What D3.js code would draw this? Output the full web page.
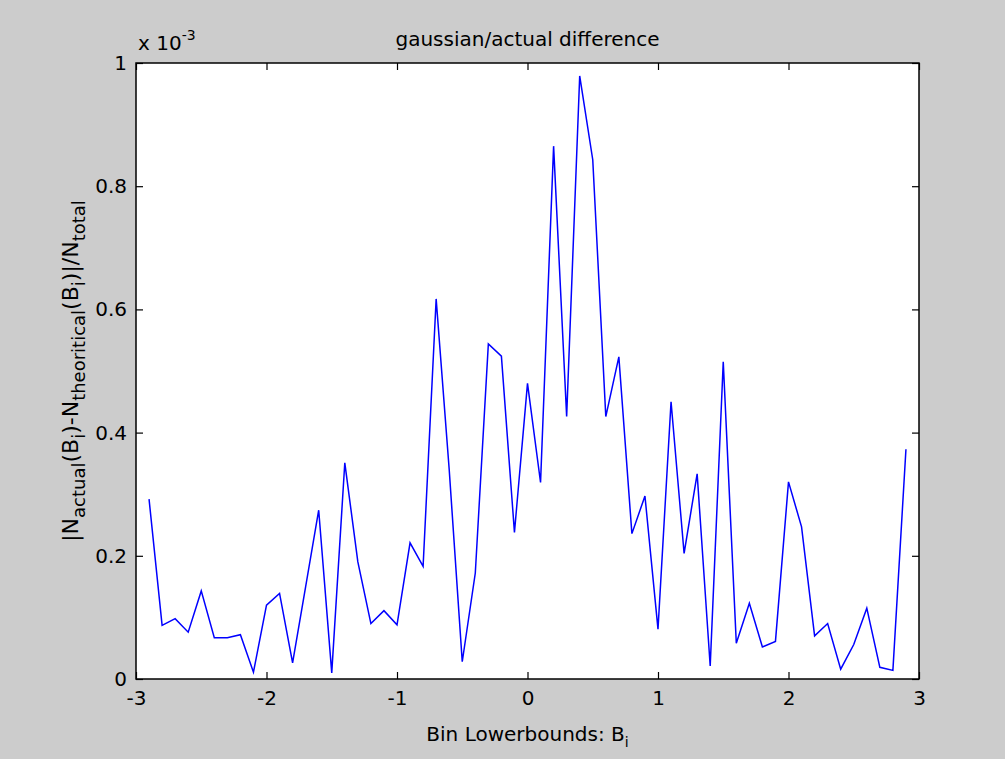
<!DOCTYPE html>
<html>
<head>
<meta charset="utf-8">
<script src="https://cdn.jsdelivr.net/npm/d3@7"></script>
<style>
  html, body { margin: 0; padding: 0; background: #cccccc; }
  svg { display: block; font-family: "DejaVu Sans", sans-serif; }
  .tick text { font-size: 20px; fill: #000; }
  .tick line { stroke: #000; stroke-width: 1.2; }
</style>
</head>
<body>
<div id="chart"></div>
<script>
// bin lower bounds (x) and normalised |difference| in units of 1e-3
const binLower = [
  -2.9, -2.8, -2.7, -2.6, -2.5, -2.4, -2.3, -2.2, -2.1, -2.0,
  -1.9, -1.8, -1.7, -1.6, -1.5, -1.4, -1.3, -1.2, -1.1, -1.0,
  -0.9, -0.8, -0.7, -0.6, -0.5, -0.4, -0.3, -0.2, -0.1, 0.0,
  0.1, 0.2, 0.3, 0.4, 0.5, 0.6, 0.7, 0.8, 0.9, 1.0,
  1.1, 1.2, 1.3, 1.4, 1.5, 1.6, 1.7, 1.8, 1.9, 2.0,
  2.1, 2.2, 2.3, 2.4, 2.5, 2.6, 2.7, 2.8, 2.9
];
const diffValues = [
  0.292, 0.087, 0.098, 0.076, 0.143, 0.067, 0.067, 0.072, 0.011, 0.120,
  0.139, 0.026, 0.150, 0.274, 0.010, 0.351, 0.190, 0.090, 0.111, 0.088,
  0.221, 0.183, 0.617, 0.340, 0.028, 0.172, 0.544, 0.524, 0.238, 0.480,
  0.319, 0.865, 0.426, 0.979, 0.843, 0.426, 0.523, 0.236, 0.297, 0.081,
  0.450, 0.204, 0.333, 0.021, 0.515, 0.058, 0.123, 0.052, 0.061, 0.320,
  0.247, 0.070, 0.090, 0.016, 0.056, 0.115, 0.019, 0.014, 0.373
];
const xTicks = [-3, -2, -1, 0, 1, 2, 3];
const yTicks = [0, 0.2, 0.4, 0.6, 0.8, 1];

const W = 1005, H = 759;
const margin = { top: 63, right: 86, bottom: 80, left: 136 },
  width = W - margin.left - margin.right,
  height = H - margin.top - margin.bottom;

const x = d3.scaleLinear().domain([-3, 3]).range([0, width]);
const y = d3.scaleLinear().domain([0, 1]).range([height, 0]);

const svg = d3.select('#chart').append('svg')
  .attr('width', W)
  .attr('height', H);

const g = svg.append('g')
  .attr('transform', `translate(${margin.left},${margin.top})`);

// axes background
g.append('rect')
  .attr('width', width)
  .attr('height', height)
  .attr('fill', '#fff');

const tickLen = 7;

// bottom + top
g.append('g')
  .attr('class', 'axis')
  .attr('transform', `translate(0,${height})`)
  .call(d3.axisBottom(x).tickValues(xTicks).tickFormat((d) => String(d))
    .tickSizeInner(-tickLen).tickSizeOuter(0).tickPadding(12));
g.append('g')
  .attr('class', 'axis')
  .call(d3.axisTop(x).tickValues(xTicks).tickFormat('')
    .tickSizeInner(-tickLen).tickSizeOuter(0));

// left + right
g.append('g')
  .attr('class', 'axis')
  .call(d3.axisLeft(y).tickValues(yTicks).tickFormat((d) => String(d))
    .tickSizeInner(-tickLen).tickSizeOuter(0).tickPadding(9));
g.append('g')
  .attr('class', 'axis')
  .attr('transform', `translate(${width},0)`)
  .call(d3.axisRight(y).tickValues(yTicks).tickFormat('')
    .tickSizeInner(-tickLen).tickSizeOuter(0));

g.selectAll('.axis .domain').remove();
g.selectAll('.axis text').attr('font-family', '"DejaVu Sans", sans-serif');

const valueline = d3.line()
  .x((d, i) => x(binLower[i]))
  .y((d) => y(d));

g.append('path')
  .datum(diffValues)
  .attr('fill', 'none')
  .attr('stroke', '#0000ff')
  .attr('stroke-width', 1.5)
  .attr('d', valueline);

// box
g.append('rect')
  .attr('width', width)
  .attr('height', height)
  .attr('fill', 'none')
  .attr('stroke', '#000')
  .attr('stroke-width', 1.5);

// title
svg.append('text')
  .attr('x', margin.left + width / 2)
  .attr('y', 46)
  .attr('text-anchor', 'middle')
  .attr('font-size', 20)
  .text('gaussian/actual difference');

// exponent label
const expo = svg.append('text')
  .attr('x', 138)
  .attr('y', 50)
  .attr('font-size', 20);
expo.append('tspan').text('x 10');
expo.append('tspan').attr('dy', -10).attr('font-size', 14).text('-3');

// x label
const xl = svg.append('text')
  .attr('x', margin.left + width / 2)
  .attr('y', 741)
  .attr('text-anchor', 'middle')
  .attr('font-size', 20);
xl.append('tspan').text('Bin Lowerbounds: B');
xl.append('tspan').attr('dy', 6).attr('font-size', 14).text('i');

// y label, rotated
const yl = svg.append('text')
  .attr('transform', `translate(78,${margin.top + height / 2}) rotate(-90)`)
  .attr('text-anchor', 'middle')
  .attr('font-size', 22);
const parts = [
  ['|N', 'actual'], ['(B', 'i'], [')-N', 'theoritical'], ['(B', 'i'], [')|/N', 'total']
];
parts.forEach(([main, sub], i) => {
  yl.append('tspan').attr('dy', i === 0 ? 0 : -7).text(main);
  yl.append('tspan').attr('dy', 7).attr('font-size', 18).text(sub);
});
</script>
</body>
</html>
